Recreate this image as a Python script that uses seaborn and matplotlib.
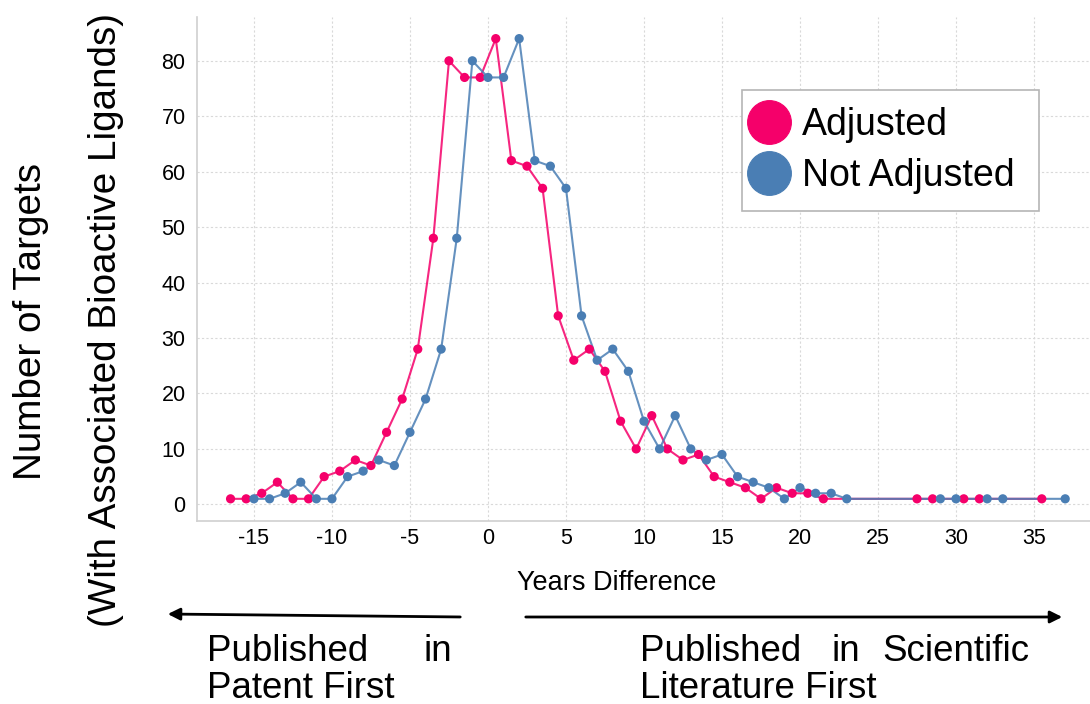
import matplotlib
matplotlib.use("Agg")
import matplotlib.pyplot as plt
import seaborn as sns
import pandas as pd
from matplotlib.lines import Line2D

# ---------------- data ----------------
adjusted_years = [-16.5, -15.5, -14.5, -13.5, -12.5, -11.5, -10.5, -9.5, -8.5, -7.5,
                  -6.5, -5.5, -4.5, -3.5, -2.5, -1.5, -0.5, 0.5, 1.5, 2.5,
                  3.5, 4.5, 5.5, 6.5, 7.5, 8.5, 9.5, 10.5, 11.5, 12.5,
                  13.5, 14.5, 15.5, 16.5, 17.5, 18.5, 19.5, 20.5, 21.5,
                  27.5, 28.5, 30.5, 31.5, 35.5]
adjusted_counts = [1, 1, 2, 4, 1, 1, 5, 6, 8, 7,
                   13, 19, 28, 48, 80, 77, 77, 84, 62, 61,
                   57, 34, 26, 28, 24, 15, 10, 16, 10, 8,
                   9, 5, 4, 3, 1, 3, 2, 2, 1,
                   1, 1, 1, 1, 1]

not_adjusted_years = [-15, -14, -13, -12, -11, -10, -9, -8, -7, -6,
                      -5, -4, -3, -2, -1, 0, 1, 2, 3, 4,
                      5, 6, 7, 8, 9, 10, 11, 12, 13, 14,
                      15, 16, 17, 18, 19, 20, 21, 22, 23,
                      29, 30, 32, 33, 37]
not_adjusted_counts = [1, 1, 2, 4, 1, 1, 5, 6, 8, 7,
                       13, 19, 28, 48, 80, 77, 77, 84, 62, 61,
                       57, 34, 26, 28, 24, 15, 10, 16, 10, 8,
                       9, 5, 4, 3, 1, 3, 2, 2, 1,
                       1, 1, 1, 1, 1]

series_names = ["Adjusted", "Not Adjusted"]
series_colors = ["#F5006A", "#4A7EB4"]
x_ticks = [-15, -10, -5, 0, 5, 10, 15, 20, 25, 30, 35]
y_ticks = [0, 10, 20, 30, 40, 50, 60, 70, 80]

# ---------------- style ----------------
sns.set_style("white")
plt.rcParams['font.family'] = ['Liberation Sans', 'DejaVu Sans']
plt.rcParams['axes.unicode_minus'] = False
plt.rcParams['text.color'] = 'black'
plt.rcParams['axes.labelcolor'] = 'black'
plt.rcParams['xtick.color'] = 'black'
plt.rcParams['ytick.color'] = 'black'
NARROW = ['Liberation Sans Narrow', 'Liberation Sans', 'DejaVu Sans']

df = pd.concat([
    pd.DataFrame({"years": adjusted_years, "count": adjusted_counts, "series": series_names[0]}),
    pd.DataFrame({"years": not_adjusted_years, "count": not_adjusted_counts, "series": series_names[1]}),
], ignore_index=True)
palette = dict(zip(series_names, series_colors))

W, H = 1090, 704
fig = plt.figure(figsize=(W / 100, H / 100), dpi=100)
ax = fig.add_axes([196.7 / W, 1 - 521 / H, 1 - 196.7 / W, (521 - 17) / H])

sns.lineplot(data=df, x="years", y="count", hue="series", palette=palette,
             estimator=None, sort=False, lw=1.5, alpha=0.85, legend=False, ax=ax)
sns.scatterplot(data=df, x="years", y="count", hue="series", palette=palette,
                s=44, linewidth=0, legend=False, ax=ax, zorder=3)

ax.set_xlim(-18.67, 38.59)
ax.set_ylim(-3.0, 87.9)
ax.set_xticks(x_ticks)
ax.set_yticks(y_ticks)
ax.tick_params(axis='both', length=0, labelsize=15.5, labelcolor='black')
ax.tick_params(axis='x', pad=5)
ax.tick_params(axis='y', pad=8)
for lbl in ax.get_xticklabels() + ax.get_yticklabels():
    lbl.set_family(NARROW)

ax.grid(True, linestyle=(0, (2, 2)), color="#d9d9d9", lw=0.8)
ax.set_axisbelow(True)
for s in ["top", "right"]:
    ax.spines[s].set_visible(False)
for s in ["left", "bottom"]:
    ax.spines[s].set_color("#d0d0d0")
    ax.spines[s].set_linewidth(1.2)

ax.set_xlabel("Years Difference", fontsize=19.5, family=NARROW, color='black')
ax.xaxis.set_label_coords((617 - 196.7) / (W - 196.7), -(583 - 521) / (521 - 17))
ax.xaxis.label.set_va('center')
ax.set_ylabel("")

YL = 27.8
fig.text(31 / W, 1 - 321 / H, "Number of Targets", rotation=90,
         fontsize=YL, ha='center', va='center')
fig.text(106 / W, 1 - 320 / H, "(With Associated Bioactive Ligands)", rotation=90,
         fontsize=YL, ha='center', va='center')

# legend
LFS = 27
handles = [Line2D([], [], marker='o', ls='none', markersize=31.5,
                  markerfacecolor=c, markeredgecolor=c, markeredgewidth=0.8)
           for c in series_colors]
leg = ax.legend(handles, series_names, loc='upper left', mode='expand',
                bbox_to_anchor=(742 / W, 1 - 210 / H, 297 / W, 120 / H),
                bbox_transform=fig.transFigure,
                fontsize=LFS, frameon=True, fancybox=False, edgecolor='#b5b5b5',
                framealpha=1, borderpad=0.45, handletextpad=0.61, labelspacing=0.40,
                handlelength=0.54, borderaxespad=0)
leg.get_frame().set_linewidth(1.2)
for t in leg.get_texts():
    t.set_color('black')

# direction arrows
ax.annotate('', xy=(165 / W, 1 - 614 / H), xytext=(463 / W, 1 - 617 / H),
            xycoords='figure fraction', textcoords='figure fraction',
            arrowprops=dict(arrowstyle='-|>', color='black', lw=2, mutation_scale=18))
ax.annotate('', xy=(1065 / W, 1 - 617 / H), xytext=(523 / W, 1 - 617 / H),
            xycoords='figure fraction', textcoords='figure fraction',
            arrowprops=dict(arrowstyle='-|>', color='black', lw=2, mutation_scale=18))

FS = 26.5
fig.text(207 / W, 1 - 661 / H, "Published", fontsize=FS, va='baseline')
fig.text(423 / W, 1 - 661 / H, "in", fontsize=FS, va='baseline')
fig.text(207 / W, 1 - 698 / H, "Patent First", fontsize=FS, va='baseline')
fig.text(640 / W, 1 - 661 / H, "Published", fontsize=FS, va='baseline')
fig.text(832 / W, 1 - 661 / H, "in", fontsize=FS, va='baseline')
fig.text(882 / W, 1 - 661 / H, "Scientific", fontsize=FS, va='baseline')
fig.text(640 / W, 1 - 698 / H, "Literature First", fontsize=FS, va='baseline')

fig.savefig("out.png", dpi=100)
